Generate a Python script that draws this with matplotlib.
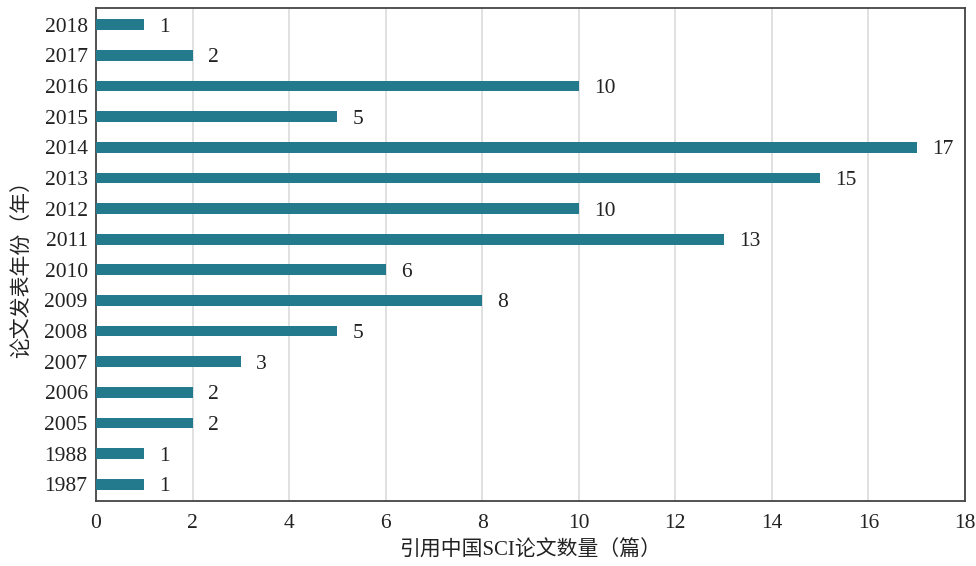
import matplotlib
matplotlib.use('Agg')
import matplotlib.pyplot as plt

plt.rcParams['font.family'] = ['Liberation Serif', 'Noto Sans CJK SC']

# 论文发表年份 与 引用中国SCI论文数量
years = ['2018', '2017', '2016', '2015', '2014', '2013', '2012', '2011',
         '2010', '2009', '2008', '2007', '2006', '2005', '1988', '1987']
counts = [1, 2, 10, 5, 17, 15, 10, 13, 6, 8, 5, 3, 2, 2, 1, 1]

BAR_COLOR = '#237a8c'

fig = plt.figure(figsize=(9.76, 5.66), dpi=100)
ax = fig.add_axes([96 / 976, 1 - 501 / 566, (965 - 96) / 976, (501 - 8) / 566])

pos = list(range(len(years)))[::-1]
ax.barh(pos, counts, height=0.35, color=BAR_COLOR, zorder=3)

for y, v in zip(pos, counts):
    ax.annotate(str(v), (v, y), xytext=(11, 0), textcoords='offset points',
                ha='left', va='center_baseline', fontsize=15.5, color='#222222')

ax.set_xlim(0, 18)
ax.set_ylim(-0.55, len(years) - 0.45)
ax.set_xticks(range(0, 19, 2))
ax.set_yticks(pos)
ax.set_yticklabels(years, va='center_baseline')
ax.tick_params(axis='y', length=0, labelsize=15.5, colors='#222222', pad=6)
ax.tick_params(axis='x', length=0, labelsize=15.5, colors='#222222', pad=9)
ax.grid(axis='x', color='#d9d9d9', linewidth=1.1, zorder=0)

for side in ['left', 'bottom', 'right', 'top']:
    ax.spines[side].set_color('#444444')
    ax.spines[side].set_linewidth(1.3)

ax.set_xlabel('引用中国SCI论文数量（篇）', fontsize=15, color='#222222', labelpad=6)
ax.set_ylabel('论文发表年份（年）', fontsize=15, color='#222222')
ax.yaxis.set_label_coords(-0.074, 0.48)

fig.savefig('out.png', dpi=100, facecolor='white')
